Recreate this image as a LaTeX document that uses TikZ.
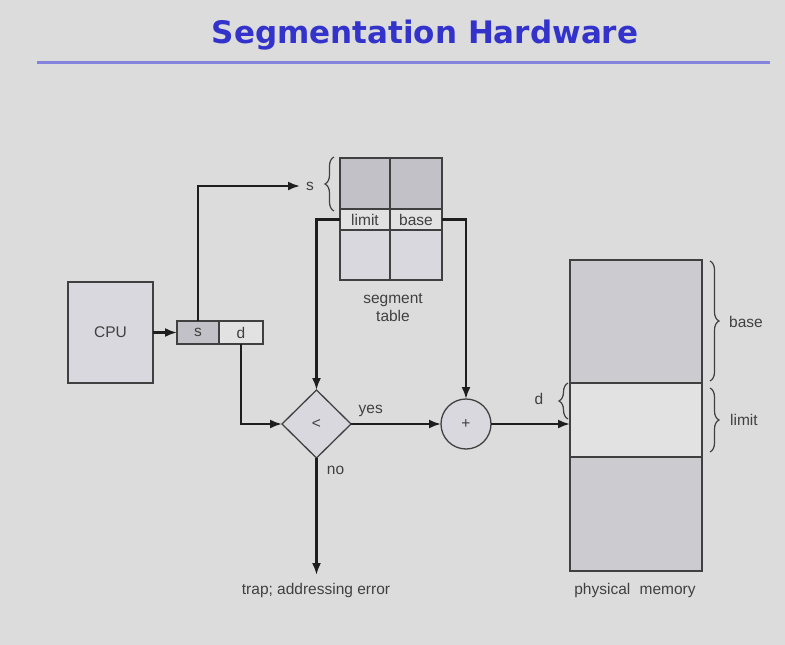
\documentclass[tikz,border=0pt]{standalone}
\usepackage{fontspec}
\setmainfont{Liberation Sans}
\newfontfamily\titlefont{DejaVu Sans}
\usetikzlibrary{arrows.meta,shapes.geometric,decorations.pathreplacing}
\definecolor{bg}{HTML}{DCDCDC}
\definecolor{titleblue}{HTML}{3333CC}
\definecolor{rulec}{HTML}{8484DE}
\definecolor{txt}{HTML}{404040}
\definecolor{ln}{HTML}{1E1E1E}
\definecolor{darkcell}{HTML}{C2C1C8}
\definecolor{midcell}{HTML}{D8D8DE}
\definecolor{lightcell}{HTML}{E2E2E3}
\definecolor{memdark}{HTML}{CBCBD0}
\tikzset{
  cell/.style={draw=ln!85, line width=1.3pt, inner sep=0pt, outer sep=0pt},
  lbl/.style={text=txt, font=\fontsize{15.5}{18}\selectfont, inner sep=1pt},
  conn/.style={draw=ln, line width=2.2pt},
  arr/.style={conn, -{Latex[length=12pt,width=9pt]}},
  brc/.style={draw=ln!85, line width=1.2pt, decorate, decoration={brace, amplitude=9pt}},
}
\begin{document}
\begin{tikzpicture}[x=1pt,y=-1pt]
\fill[bg] (0,0) rectangle (785,645);
\useasboundingbox (0,0) rectangle (785,645);
% title
\node[anchor=base, text=titleblue, font=\titlefont\bfseries\fontsize{31}{36}\selectfont] (title) at (425,43) {Segmentation Hardware};
\draw[rulec, line width=3pt] (37,62) -- (770,62);
% CPU
\node[cell, fill=midcell, minimum width=85, minimum height=101, lbl] (cpu) at (110.5,332.5) {CPU};
% register
\node[cell, fill=darkcell, minimum width=42, minimum height=23, lbl] (s) at (198,332.5) {s};
\node[cell, fill=lightcell, minimum width=44, minimum height=23, lbl] (d) at (241,332.5) {d};
% segment table
\node[cell, fill=darkcell, minimum width=50, minimum height=51] (stTL) at (365,183.5) {};
\node[cell, fill=darkcell, minimum width=52, minimum height=51] (stTR) at (416,183.5) {};
\node[cell, fill=lightcell, minimum width=50, minimum height=21, lbl] (limit) at (365,219.5) {limit};
\node[cell, fill=lightcell, minimum width=52, minimum height=21, lbl] (base) at (416,219.5) {base};
\node[cell, fill=midcell, minimum width=50, minimum height=50] (stBL) at (365,255) {};
\node[cell, fill=midcell, minimum width=52, minimum height=50] (stBR) at (416,255) {};
\node[lbl, align=center] (sttext) at (393,308) {segment\\table};
% s arrow into table
\coordinate (sin) at (300,186);
\node[lbl] (slabel) at (310,186) {s};
\draw[brc] (334,211) -- (334,157);
% diamond and adder
\node[cell, diamond, fill=midcell, minimum width=69, minimum height=68, lbl] (dia) at (316.5,424) {\textless};
\node[cell, circle, fill=midcell, minimum size=50, lbl] (plus) at (466,424) {+};
% physical memory
\node[cell, fill=memdark, minimum width=132, minimum height=123] (m1) at (636,321.5) {};
\node[cell, fill=lightcell, minimum width=132, minimum height=74] (m2) at (636,420) {};
\node[cell, fill=memdark, minimum width=132, minimum height=114] (m3) at (636,514) {};
\coordinate (memin) at (570,424);
\node[lbl] (pm) at (635,590) {physical\hspace{0.6em}memory};
\draw[brc] (710,261) -- (710,381);
\node[lbl, anchor=west] (baselbl) at (728,322) {base};
\draw[brc] (710,388) -- (710,452);
\node[lbl, anchor=west] (limitlbl) at (729,420) {limit};
\draw[brc] (568,419) -- (568,383);
\node[lbl] (dlbl) at (539,399) {d};
% trap
\coordinate (trapend) at (316.5,575);
\node[lbl] (trap) at (316,590) {trap; addressing error};
% connectors
\draw[arr] (cpu.east) -- (s.west);
\draw[arr] (s.north) |- (sin);
\draw[arr] (limit.west) -| (dia.north);
\draw[arr] (base.east) -| (plus.north);
\draw[arr] (d.south) |- (dia.west);
\draw[arr] (dia.east) -- node[lbl, pos=0.22, yshift=13pt] (yes) {yes} (plus.west);
\draw[arr] (plus.east) -- (memin);
\draw[arr] (dia.south) -- node[lbl, pos=0.11, xshift=19pt] (no) {no} (trapend);
\end{tikzpicture}
\end{document}
